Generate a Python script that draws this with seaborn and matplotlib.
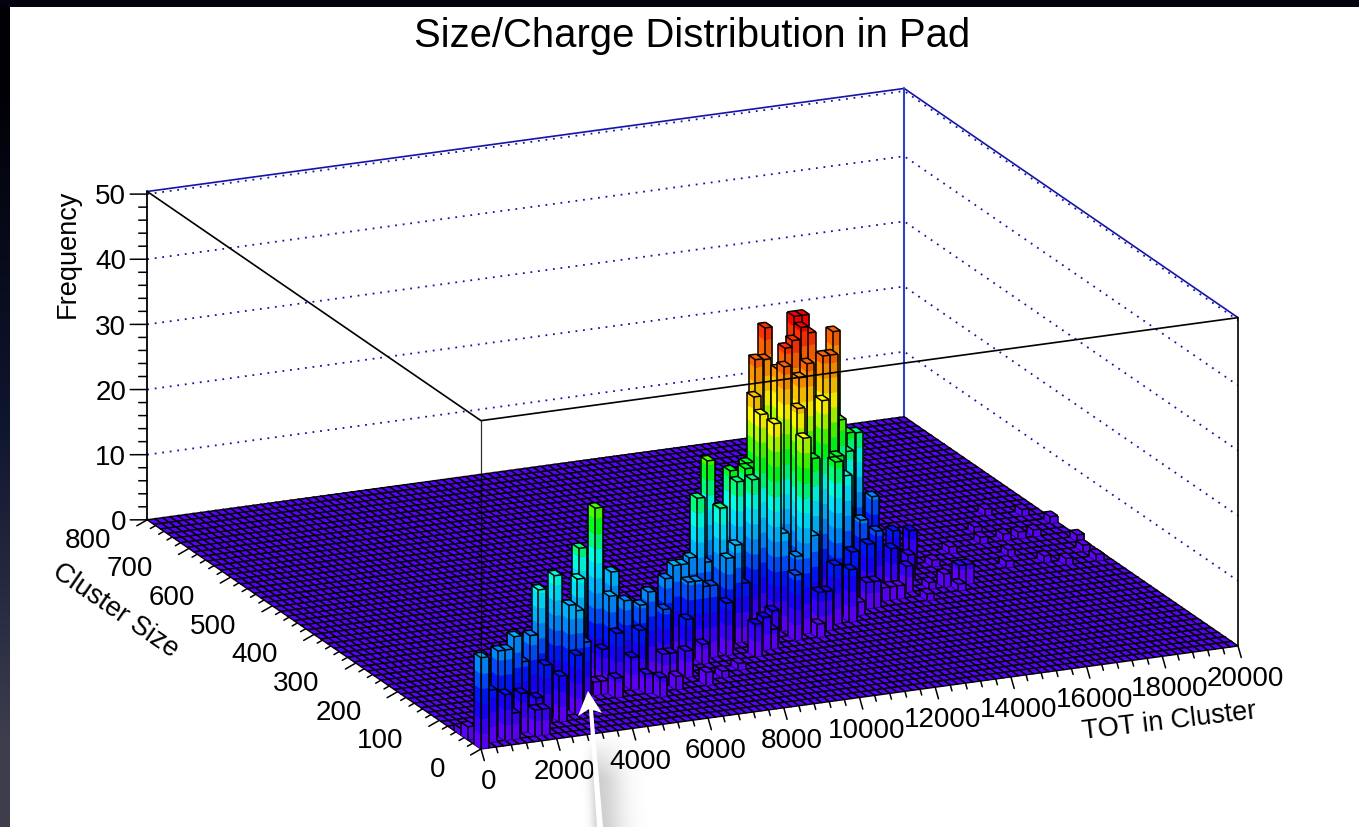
import numpy as np
import pandas as pd
import matplotlib
matplotlib.use('Agg')
import matplotlib.pyplot as plt
from matplotlib.patches import Polygon
from mpl_toolkits.mplot3d import proj3d
from mpl_toolkits.mplot3d.art3d import Poly3DCollection, Line3DCollection
import seaborn as sns

sns.set_theme(style='white')
plt.rcParams['font.family'] = ['Liberation Sans', 'DejaVu Sans']
plt.rcParams['text.color'] = 'black'

# lego bins, TOT 200 per bin, cluster size 16 per bin
tot_bin_step = 200
size_bin_step = 16
n_tot_bins = 100
n_size_bins = 50

tot_bin = [0, 4, 5, 7, 10, 12, 15, 16, 20, 18, 23, 26, 24, 26, 28, 30, 34, 36, 37, 39, 40,
           43, 44, 47, 49, 47, 49, 51, 51, 53, 55, 56, 56, 55, 57, 59, 60, 59, 60, 65, 61, 62, 58, 55, 51, 54, 60, 64, 68, 65, 57, 61, 60, 63,
           45, 52, 56, 71, 68, 66, 72, 70, 76, 74, 72, 69, 68, 70, 53, 59, 42, 40, 38, 37, 39, 49, 47, 57, 56, 63, 55, 38, 45, 48, 32, 35, 46, 52, 63, 64, 43, 41,
           24, 26, 32, 31, 34, 35, 28, 27, 2, 4, 5, 7, 8, 9, 11, 8, 9, 13, 16, 18, 17, 23, 20, 21, 22, 23, 27, 31, 38, 41, 65, 66, 61, 66, 0, 0,
           93, 97, 99, 99, 95, 89, 91, 93, 88, 83, 89, 92, 94, 98, 98, 79, 80, 87, 77, 79, 75, 78, 73,
           56, 58, 57, 58, 63, 62, 66, 52, 50]
size_bin = [0, 2, 2, 3, 4, 5, 6, 5, 8, 6, 9, 10, 8, 8, 8, 9, 11, 12, 12, 13, 13,
            13, 16, 16, 16, 15, 15, 17, 16, 19, 20, 21, 18, 17, 18, 20, 20, 19, 19, 21, 18, 18, 17, 15, 14, 13, 17, 19, 21, 19, 15, 16, 15, 17,
            13, 14, 14, 22, 18, 17, 20, 18, 22, 20, 18, 17, 17, 17, 13, 14, 11, 11, 11, 11, 11, 12, 11, 13, 13, 15, 12, 10, 10, 11, 9, 9, 13, 12, 16, 18, 12, 13,
            7, 7, 8, 8, 8, 6, 5, 7, 1, 1, 1, 2, 3, 2, 3, 1, 1, 3, 4, 5, 5, 8, 7, 7, 7, 6, 6, 6, 7, 8, 16, 16, 14, 18, 2, 3,
            30, 29, 27, 23, 25, 27, 25, 25, 25, 24, 22, 20, 19, 19, 21, 18, 18, 20, 18, 22, 18, 17, 16,
            19, 19, 17, 18, 19, 19, 20, 18, 17]
frequency = [14, 13, 13, 14, 13, 19, 20, 16, 22, 19, 27, 16, 14, 13, 12, 13, 13, 14, 14, 14, 23,
             21, 26, 24, 24, 23, 23, 34, 32, 38, 37, 41, 40, 38, 41, 43, 43, 42, 41, 39, 38, 38, 38, 33, 32, 30, 32, 27, 23, 22, 25, 24, 24, 20,
             15, 15, 14, 12, 10, 9, 8, 7, 6, 4, 4, 2, 2, 2, 12, 9, 8, 11, 12, 12, 11, 5, 5, 6, 6, 2, 2, 3, 5, 3, 10, 8, 9, 10, 9, 14, 14, 13,
             9, 5, 4, 4, 4, 2, 3, 9, 8, 7, 4, 6, 10, 5, 9, 4, 4, 7, 9, 10, 15, 6, 2, 2, 2, 3, 3, 2, 1, 1, 4, 4, 8, 12, 2, 1,
             1, 1, 1, 1, 1, 1, 1, 1, 1, 1, 1, 1, 1, 1, 1, 3, 3, 1, 2, 1, 1, 1, 1,
             36, 38, 36, 36, 34, 36, 24, 26, 24]

tot_ticks = [0, 2000, 4000, 6000, 8000, 10000, 12000, 14000, 16000, 18000, 20000]
size_ticks = [0, 100, 200, 300, 400, 500, 600, 700, 800]
freq_ticks = [0, 10, 20, 30, 40, 50]

title = 'Size/Charge Distribution in Pad'
tot_label = 'TOT in Cluster'
size_label = 'Cluster Size'
freq_label = 'Frequency'

TOT_MAX = 20000
SIZE_MAX = 800
FREQ_TOP = 50.4
W, H = 1359, 828

# height bands of the lego colouring
band_step = 2.3
palette = sns.blend_palette(['#5f00ff', '#0000ff', '#0090ff', '#00ffff', '#00ff00', '#ffff00', '#ff8000', '#ff0000'],
                            n_colors=19)
floor_color = '#5a00ff'
frame_blue = '#1414a8'


def fx(px):
  return px / W


def fy(py):
  return 1 - py / H


def shade(c, k):
  return tuple(min(1, v * k) for v in c)


fig = plt.figure(figsize=(W / 100, H / 100), dpi=100, facecolor='white')

# screenshot edges and the soft shadow of the arrow
bg = fig.add_axes([0, 0, 1, 1], zorder=0)
left_strip = np.array([[0.0, 0.0, 0.02], [0.03, 0.04, 0.10], [0.06, 0.08, 0.18], [0.14, 0.16, 0.25], [0.24, 0.24, 0.30]])
bg.imshow(left_strip[:, None, :], extent=(0, 10, H, 0), aspect='auto', interpolation='bilinear', zorder=1)
bg.fill_between([0, W], 0, 8, color='#03030f', lw=0, zorder=2)
sx, sy = np.meshgrid(np.linspace(570, 650, 80), np.linspace(735, 828, 60))
centre = 596 + (sy - 735) * 0.04
across = np.where(sx < centre, np.exp(-((sx - centre) / 8) ** 2), np.exp(-((sx - centre) / 24) ** 2))
along = np.clip((sy - 735) / 45, 0, 1)
shadow = np.zeros(sx.shape + (4,))
shadow[..., :3] = 0.55
shadow[..., 3] = 0.42 * across * along
bg.imshow(shadow, extent=(570, 650, 828, 735), aspect='auto', interpolation='bilinear', zorder=3)
bg.set_xlim(0, W)
bg.set_ylim(H, 0)
bg.axis('off')

ax = fig.add_axes([0, 0, 1, 1], projection='3d', computed_zorder=False, zorder=1)
ax.patch.set_alpha(0)
ax.set_proj_type('ortho')
ax.view_init(elev=17.8, azim=-114)
ax.set_xlim(0, TOT_MAX)
ax.set_ylim(0, SIZE_MAX)
ax.set_zlim(0, FREQ_TOP)
ax.set_axis_off()


def to_px(x, y, z):
  xs, ys, _ = proj3d.proj_transform(np.array([x]), np.array([y]), np.array([z]), ax.get_proj())
  p = ax.transData.transform((xs[0], ys[0]))
  return p[0], H - p[1]


# make the axes a big square and move it until the box corners land where they should
side = 3000
ax.set_position([(W - side) / 2 / W, (H - side) / 2 / H, side / W, side / H])
ax.set_box_aspect((829, 821, 345), zoom=1)
ax.apply_aspect()
a = np.array(to_px(0, 0, 0))
b = np.array(to_px(TOT_MAX, 0, 0))
ax.set_box_aspect((829, 821, 345), zoom=np.hypot(757, 103) / np.hypot(*(b - a)))
ax.apply_aspect()
a = np.array(to_px(0, 0, 0))
left = (W - side) / 2 + (481 - a[0])
bottom = (H - side) / 2 - (750 - a[1])
ax.set_position([left / W, bottom / H, side / W, side / H])
ax.apply_aspect()

# floor
xe = np.arange(n_tot_bins + 1) * tot_bin_step
ye = np.arange(n_size_bins + 1) * size_bin_step
X, Y = np.meshgrid(xe, ye)
ax.plot_surface(X, Y, np.zeros_like(X, dtype=float), color=floor_color, edgecolor='black', linewidth=1.05,
                rstride=1, cstride=1, shade=False, zorder=2)

# back walls
for f in freq_ticks:
  ax.plot([0, TOT_MAX, TOT_MAX], [SIZE_MAX, SIZE_MAX, 0], [f, f, f], color=frame_blue, lw=1.3,
          ls=(0, (1, 3.2)), zorder=1)
ax.plot([0, TOT_MAX, TOT_MAX], [SIZE_MAX, SIZE_MAX, 0], [FREQ_TOP] * 3, color=frame_blue, lw=1.2, zorder=1)
ax.plot([TOT_MAX, TOT_MAX], [SIZE_MAX, SIZE_MAX], [0, FREQ_TOP], color='#3040c0', lw=1.5, zorder=1)

# bars, painted from the back corner to the front one
bars = pd.DataFrame({'tot': tot_bin, 'size': size_bin, 'freq': frequency}).drop_duplicates(['tot', 'size'])
bars = bars.assign(depth=bars['tot'] + bars['size']).sort_values('depth', ascending=False)
z = 10
for row in bars.itertuples():
  x0, x1 = row.tot * tot_bin_step, (row.tot + 1) * tot_bin_step
  y0, y1 = row.size * size_bin_step, (row.size + 1) * size_bin_step
  h = row.freq
  polys, cols = [], []
  n = int(np.ceil(h / band_step))
  for i in range(n):
    lo, hi = i * band_step, min((i + 1) * band_step, h)
    c = palette[min(i, len(palette) - 1)]
    polys.append([(x0, y0, lo), (x0, y1, lo), (x0, y1, hi), (x0, y0, hi)])
    cols.append(shade(c, 1.0))
    polys.append([(x0, y0, lo), (x1, y0, lo), (x1, y0, hi), (x0, y0, hi)])
    cols.append(shade(c, 0.93))
  polys.append([(x0, y0, h), (x1, y0, h), (x1, y1, h), (x0, y1, h)])
  cols.append(palette[min(n - 1, len(palette) - 1)])
  col = Poly3DCollection(polys, facecolors=cols, edgecolors=cols, linewidths=0.25)
  col.set_zorder(z)
  ax.add_collection3d(col)
  segs = [[(x0, y0, h), (x1, y0, h)], [(x1, y0, h), (x1, y1, h)], [(x1, y1, h), (x0, y1, h)], [(x0, y1, h), (x0, y0, h)],
          [(x0, y0, 0), (x0, y0, h)], [(x1, y0, 0), (x1, y0, h)], [(x0, y1, 0), (x0, y1, h)]]
  lines = Line3DCollection(segs, colors='black', linewidths=1.1)
  lines.set_zorder(z + 0.5)
  ax.add_collection3d(lines)
  z += 1

# front frame goes over everything
top = z + 10
ax.plot([0, 0, TOT_MAX, TOT_MAX], [SIZE_MAX, 0, 0, 0], [FREQ_TOP, FREQ_TOP, FREQ_TOP, 0], color='black', lw=1.2, zorder=top)
ax.plot([0, 0], [0, 0], [0, FREQ_TOP], color='black', lw=0.9, alpha=0.8, zorder=top)
ax.plot([0, 0], [SIZE_MAX, SIZE_MAX], [0, FREQ_TOP], color='black', lw=1.3, zorder=top)

# ticks: offsets are given in data units so they read on screen like the ROOT ticks
for f in np.arange(0, 50.1, 2):
  k = 1 if f % 10 == 0 else 0.5
  ax.plot([0, -449 * k], [SIZE_MAX, SIZE_MAX], [f, f + 0.35 * k], color='black', lw=1.1, zorder=top)
for s in np.arange(0, SIZE_MAX + 1, 20):
  k = 1 if s % 100 == 0 else 0.5
  ax.plot([0, -275 * k], [s, s], [0, -0.7 * k], color='black', lw=1.1, zorder=top)
for t in np.arange(0, TOT_MAX + 1, 400):
  k = 1 if t % 2000 == 0 else 0.5
  ax.plot([t, t + 87 * k], [0, 0], [0, -1.85 * k], color='black', lw=1.1, zorder=top)

tick_size = 20
for f in freq_ticks:
  ax.text(-560, SIZE_MAX, f + 0.1, str(f), ha='right', va='center', fontsize=tick_size, color='black', zorder=top)
for s in size_ticks:
  ax.text(-951, s, -2.3, str(s), ha='right', va='center', fontsize=tick_size, color='black', zorder=top)
for t in tot_ticks:
  ax.text(t + 200, 0, -5.1, str(t), ha='center', va='center', fontsize=tick_size, rotation=7.7,
          rotation_mode='anchor', color='black', zorder=top)

fig.text(fx(692), fy(36), title, ha='center', va='center', fontsize=28.8, zorder=5)
fig.text(fx(1169), fy(722), tot_label, ha='center', va='center', fontsize=19.5, rotation=6.8, rotation_mode='anchor', zorder=5)
fig.text(fx(115), fy(611), size_label, ha='center', va='center', fontsize=19.5, rotation=-34.5, rotation_mode='anchor', zorder=5)
fig.text(fx(68), fy(254), freq_label, ha='center', va='center', fontsize=19.5, rotation=90, rotation_mode='anchor', zorder=5)

# white arrow pointing at the small bump
over = fig.add_axes([0, 0, 1, 1], zorder=3)
over.set_xlim(0, W)
over.set_ylim(H, 0)
over.axis('off')
over.patch.set_alpha(0)
over.add_patch(Polygon([(588, 692), (602, 714), (593, 711), (603, 828), (597, 828), (589, 710), (578, 717)],
                       closed=True, facecolor='white', edgecolor='none'))

fig.savefig('out.png', dpi=100)
